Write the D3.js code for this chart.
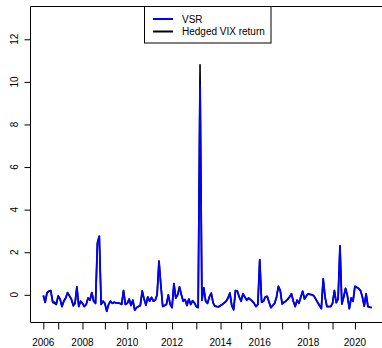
<!DOCTYPE html>
<html>
<head>
<meta charset="utf-8">
<script src="https://cdn.jsdelivr.net/npm/d3@7"></script>
<style>
    body { margin: 0; background: #fff; }
    svg text { font-family: "Liberation Sans", Arial, Helvetica, sans-serif; font-size: 10px; fill: #000; }
</style>
</head>
<body>
<div id="chart"></div>
<script>
// observation index where each calendar year begins
var yearIdx = [0, 8, 21, 33, 45, 55, 69, 82, 95, 106, 116, 128, 142, 155, 167];
var yearLabels = ["2006", "2007", "2008", "2009", "2010", "2011", "2012", "2013",
                  "2014", "2015", "2016", "2017", "2018", "2019", "2020"];
var yTicks = [0, 2, 4, 6, 8, 10, 12];
var seriesNames = ["VSR", "Hedged VIX return"];

// monthly VSR
var vsr = [
    -0.03, -0.35, 0.10, 0.17, 0.20, -0.30, -0.35, -0.40, -0.05, -0.20,
    -0.55, -0.30, -0.15, 0.10, -0.05, -0.20, -0.45, -0.38, 0.37, -0.55,
    -0.30, -0.40, -0.55, -0.45, -0.15, -0.25, 0.10, -0.30, -0.40, 2.44,
    2.75, -0.45, -0.30, -0.40, -0.77, -0.45, -0.30, -0.40, -0.35, -0.38,
    -0.38, -0.40, -0.45, 0.20, -0.45, -0.40, -0.20, -0.50, -0.25, -0.72,
    -0.60, -0.55, -0.50, 0.18, -0.20, -0.48, -0.10, -0.30, -0.12, -0.30,
    -0.25, 0.00, 1.58, 0.45, -0.55, -0.50, -0.45, 0.00, -0.45, -0.60,
    0.53, -0.15, 0.00, 0.37, 0.00, -0.30, -0.22, -0.50, -0.20, -0.45,
    -0.28, -0.38, -0.55, -0.60, 9.85, -0.25, 0.33, -0.30, -0.40, -0.10,
    0.08, -0.38, -0.53, -0.55, -0.56, -0.50, -0.45, -0.38, -0.30, -0.15,
    0.08, -0.50, -0.70, 0.20, 0.17, -0.10, -0.30, 0.05, -0.10, -0.25,
    -0.15, -0.22, -0.30, -0.40, -0.55, -0.45, 1.65, -0.35, -0.30, -0.10,
    -0.07, -0.35, -0.60, -0.50, -0.40, -0.10, 0.40, 0.20, -0.43, -0.35,
    -0.30, -0.20, -0.10, 0.05, -0.30, -0.55, -0.25, -0.40, -0.10, 0.17,
    -0.20, -0.05, 0.05, 0.02, 0.00, -0.05, -0.20, -0.35, -0.50, -0.65,
    0.75, -0.10, -0.55, -0.55, -0.55, -0.40, 0.20, -0.37, -0.20, 2.30,
    -0.43, -0.10, 0.30, -0.05, -0.65, -0.15, -0.30, 0.40, 0.35, 0.30,
    0.20, -0.10, -0.53, 0.05, -0.55, -0.58, -0.60
];

// monthly hedged VIX return
var hedged = [
    -0.03, -0.35, 0.10, 0.17, 0.20, -0.36, -0.40, -0.46, -0.05, -0.20,
    -0.55, -0.30, -0.15, 0.10, -0.05, -0.20, -0.52, -0.42, 0.37, -0.55,
    -0.30, -0.40, -0.55, -0.45, -0.15, -0.25, 0.10, -0.30, -0.40, 2.40,
    2.75, -0.45, -0.30, -0.40, -0.77, -0.45, -0.30, -0.40, -0.35, -0.38,
    -0.38, -0.40, -0.45, 0.20, -0.45, -0.40, -0.20, -0.50, -0.25, -0.72,
    -0.60, -0.55, -0.50, 0.18, -0.20, -0.48, -0.10, -0.30, -0.12, -0.30,
    -0.25, 0.00, 1.58, 0.45, -0.55, -0.50, -0.45, 0.00, -0.45, -0.60,
    0.53, -0.15, 0.00, 0.37, 0.00, -0.30, -0.22, -0.50, -0.20, -0.45,
    -0.28, -0.38, -0.55, -0.60, 10.80, -0.25, 0.33, -0.30, -0.40, -0.10,
    0.08, -0.38, -0.53, -0.55, -0.56, -0.50, -0.45, -0.38, -0.30, -0.15,
    0.08, -0.50, -0.70, 0.20, 0.17, -0.10, -0.30, 0.05, -0.10, -0.25,
    -0.15, -0.22, -0.30, -0.40, -0.55, -0.45, 1.65, -0.35, -0.30, -0.10,
    -0.07, -0.35, -0.60, -0.50, -0.40, -0.10, 0.40, 0.20, -0.43, -0.35,
    -0.30, -0.20, -0.10, 0.05, -0.30, -0.55, -0.25, -0.40, -0.10, 0.17,
    -0.20, -0.05, 0.05, 0.02, 0.00, -0.05, -0.20, -0.35, -0.50, -0.65,
    0.75, -0.10, -0.55, -0.55, -0.55, -0.40, 0.20, -0.37, -0.20, 2.30,
    -0.43, -0.10, 0.30, -0.05, -0.65, -0.15, -0.30, 0.40, 0.35, 0.30,
    0.20, -0.10, -0.53, 0.05, -0.55, -0.58, -0.60
];

var width = 382,
    height = 348,
    box = {left: 30.5, top: 6.5, right: 385, bottom: 322.5};

var svg = d3.select("#chart").append("svg")
    .attr("width", width)
    .attr("height", height);

/* SCALES */
var x = d3.scaleLinear()
    .domain([0, vsr.length - 1])
    .range([43.3, 371.7]);

var y = d3.scaleLinear()
    .domain([-1.3, 13.54])
    .range([box.bottom, box.top]);

var line = d3.line()
    .x(function (d, i) { return x(i); })
    .y(function (d) { return y(d); })
    .curve(d3.curveLinear);

//hedged first, VSR drawn on top
svg.append("path")
    .datum(hedged)
    .attr("d", line)
    .attr("fill", "none")
    .attr("stroke", "#000")
    .attr("stroke-width", 1.6)
    .attr("stroke-linejoin", "round");

svg.append("path")
    .datum(vsr)
    .attr("d", line)
    .attr("fill", "none")
    .attr("stroke", "#0000ff")
    .attr("stroke-width", 1.8)
    .attr("stroke-linejoin", "round");

/* AXES */
var yAxis = svg.append("g")
    .attr("transform", "translate(" + box.left + ",0)")
    .call(d3.axisLeft(y).tickValues(yTicks).tickSize(6).tickSizeOuter(0).tickFormat(""));
yAxis.select(".domain").remove();
yAxis.selectAll("line").attr("stroke", "#000");

svg.append("g").selectAll("text")
    .data(yTicks)
    .enter()
    .append("text")
    .attr("transform", function (d) { return "translate(17.5," + y(d) + ") rotate(-90)"; })
    .attr("text-anchor", "middle")
    .text(function (d) { return d; });

var xAxis = svg.append("g")
    .attr("transform", "translate(0," + box.bottom + ")")
    .call(d3.axisBottom(x).tickValues(yearIdx).tickSize(7).tickSizeOuter(0).tickFormat(""));
xAxis.select(".domain").remove();
xAxis.selectAll("line").attr("stroke", "#000");

//odd years are dropped, as R does when labels would overlap
svg.append("g").selectAll("text")
    .data(yearIdx)
    .enter()
    .append("text")
    .attr("x", function (d) { return x(d); })
    .attr("y", 346)
    .attr("text-anchor", "middle")
    .text(function (d, i) { return i % 2 === 0 ? yearLabels[i] : ""; });

// plot frame (right edge falls outside the picture)
svg.append("path")
    .attr("d", "M" + box.right + "," + box.top + "H" + box.left + "V" + box.bottom + "H" + box.right)
    .attr("fill", "none")
    .attr("stroke", "#000")
    .attr("stroke-width", 1);

/* LEGEND */
var legend = svg.append("g");
legend.append("rect")
    .attr("x", 144.5)
    .attr("y", box.top)
    .attr("width", 126.5)
    .attr("height", 36.5)
    .attr("fill", "#fff")
    .attr("stroke", "#000");

var legendColors = ["#0000ff", "#000"];
var rows = legend.selectAll("g.row")
    .data(seriesNames)
    .enter()
    .append("g")
    .classed("row", true)
    .attr("transform", function (d, i) { return "translate(0," + (19 + i * 12.5) + ")"; });

rows.append("line")
    .attr("x1", 153)
    .attr("x2", 173)
    .attr("stroke", function (d, i) { return legendColors[i]; })
    .attr("stroke-width", 2);

rows.append("text")
    .attr("x", 182)
    .attr("dy", "0.35em")
    .text(function (d) { return d; });
</script>
</body>
</html>
